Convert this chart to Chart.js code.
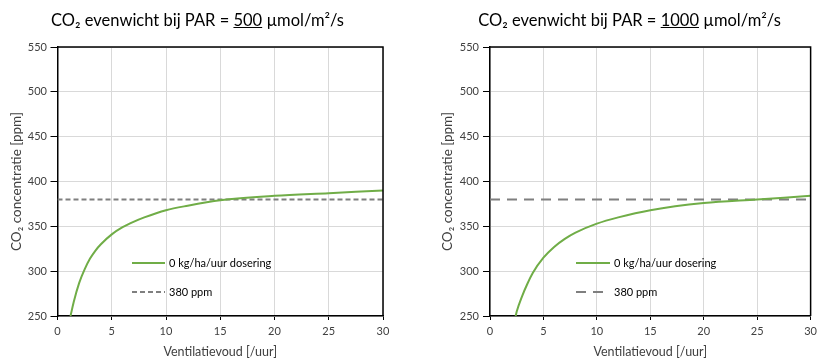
<!DOCTYPE html>
<html><head><meta charset="utf-8">
<script src="https://cdn.jsdelivr.net/npm/chart.js@4.4.0/dist/chart.umd.min.js"></script>
<style>
html,body{margin:0;padding:0;background:#fff;width:822px;height:358px;overflow:hidden;}
.wrap{position:absolute;top:0;width:411px;height:358px;}
.title{position:absolute;top:11px;line-height:19px;font-family:Lato,'Open Sans',sans-serif;font-size:16.5px;color:#000;white-space:nowrap;text-align:center;}
canvas{position:absolute;top:0;left:0;}
</style></head><body>
<div class="wrap" style="left:0"><canvas id="c1" width="411" height="358"></canvas></div>
<div class="wrap" style="left:411px"><canvas id="c2" width="411" height="358"></canvas></div>
<div class="title" style="left:0;width:395px;">CO₂ evenwicht bij PAR = <u>500</u> µmol/m²/s</div>
<div class="title" style="left:411px;width:437px;">CO₂ evenwicht bij PAR = <u>1000</u> µmol/m²/s</div>
<script>
// ---- data ----
const ventLeft  = [1.2, 1.5, 2, 2.5, 3, 3.5, 4, 5, 6, 7, 8, 10, 12, 15, 20, 25, 30];
const co2Left   = [250, 266, 287, 302, 314, 323, 330, 341, 349, 355, 360, 368, 373, 379, 384, 387, 390];
const ventRight = [2.4, 2.5, 3, 3.5, 4, 5, 6, 7, 8, 10, 12, 15, 20, 25, 30];
const co2Right  = [250, 255, 272, 286, 298, 315, 327, 336, 343, 353, 360, 368, 376, 380, 384];
const refX = [0, 30];
const refY = [380, 380];
const xTicks = [0, 5, 10, 15, 20, 25, 30];
const yTicks = [250, 300, 350, 400, 450, 500, 550];
const seriesLabels = ['0 kg/ha/uur dosering', '380 ppm'];
const xTitle = 'Ventilatievoud [/uur]';
const yTitle = 'CO₂ concentratie [ppm]';

const FONT = 'Lato, "Open Sans", sans-serif';
const toXY = (xs, ys) => xs.map((x, i) => ({x, y: ys[i]}));

const framePlugin = {
  id: 'frame',
  afterDatasetsDraw(chart) {
    const {ctx, chartArea: a} = chart;
    ctx.save();
    ctx.strokeStyle = '#000';
    ctx.lineWidth = 1.5;
    ctx.beginPath();
    ctx.moveTo(a.left, a.top); ctx.lineTo(a.right, a.top); ctx.lineTo(a.right, a.bottom);
    ctx.stroke();
    ctx.restore();
  }
};

const innerLegend = {
  id: 'innerLegend',
  afterDraw(chart, args, opts) {
    const {ctx, chartArea: a} = chart;
    ctx.save();
    chart.data.datasets.forEach((ds, i) => {
      const y = a.top + opts.rows[i];
      const x0 = a.left + opts.x;
      ctx.strokeStyle = ds.borderColor;
      ctx.lineWidth = ds.borderWidth;
      ctx.setLineDash(ds.borderDash || []);
      ctx.beginPath(); ctx.moveTo(x0, y); ctx.lineTo(x0 + opts.len, y); ctx.stroke();
      ctx.setLineDash([]);
      ctx.fillStyle = '#000';
      ctx.font = '11px ' + FONT;
      ctx.textBaseline = 'middle';
      ctx.textAlign = 'left';
      ctx.fillText(ds.label, x0 + opts.len + 4, y);
    });
    ctx.restore();
  }
};

function makeChart(id, xs, ys, cfg) {
  return new Chart(document.getElementById(id), {
    type: 'line',
    data: {
      datasets: [
        {label: seriesLabels[0], data: toXY(xs, ys), borderColor: '#70ad47', borderWidth: 2,
         pointRadius: 0, cubicInterpolationMode: 'monotone', fill: false},
        {label: seriesLabels[1], data: toXY(refX, refY), borderColor: '#7f7f7f', borderWidth: 2,
         borderDash: cfg.dash, pointRadius: 0, fill: false}
      ]
    },
    options: {
      responsive: false, animation: false, devicePixelRatio: 1,
      layout: {padding: {left: 0, right: cfg.padRight, top: 47, bottom: 0}},
      plugins: {legend: {display: false}, tooltip: {enabled: false},
        innerLegend: {x: cfg.legX, len: cfg.legLen, rows: [216, 245]}},
      scales: {
        x: {
          type: 'linear', min: 0, max: 30,
          afterBuildTicks: s => { s.ticks = xTicks.map(v => ({value: v})); },
          afterFit: s => { s.height = 42; },
          grid: {color: '#d9d9d9', lineWidth: 1, tickLength: 4, tickColor: '#000', tickWidth: 1},
          border: {color: '#000', width: 1.5},
          ticks: {font: {family: FONT, size: 11}, color: '#404040', padding: 5, maxRotation: 0},
          title: {display: true, text: xTitle, font: {family: FONT, size: 12.5, lineHeight: 1},
                  color: '#404040', padding: {top: 0, bottom: 0}}
        },
        y: {
          type: 'linear', min: 250, max: 550,
          afterBuildTicks: s => { s.ticks = yTicks.map(v => ({value: v})); },
          afterFit: s => { s.width = cfg.yWidth; },
          grid: {color: '#d9d9d9', lineWidth: 1, tickLength: 7, tickColor: '#000', tickWidth: 1},
          border: {color: '#000', width: 1.5},
          ticks: {font: {family: FONT, size: 11}, color: '#404040', padding: cfg.yTickPad},
          title: {display: true, text: yTitle, font: {family: FONT, size: 13.5, lineHeight: 1.2},
                  color: '#404040', padding: {top: cfg.yTitlePad, bottom: 0}}
        }
      }
    },
    plugins: [framePlugin, innerLegend]
  });
}

makeChart('c1', ventLeft, co2Left, {dash: [5, 3], padRight: 28, yWidth: 57.5, yTickPad: 3.5, yTitlePad: 9, legX: 74.5, legLen: 33});
makeChart('c2', ventRight, co2Right, {dash: [10, 7], padRight: 7, yWidth: 79, yTickPad: 4, yTitlePad: 29, legX: 86, legLen: 34});
</script>
</body></html>
